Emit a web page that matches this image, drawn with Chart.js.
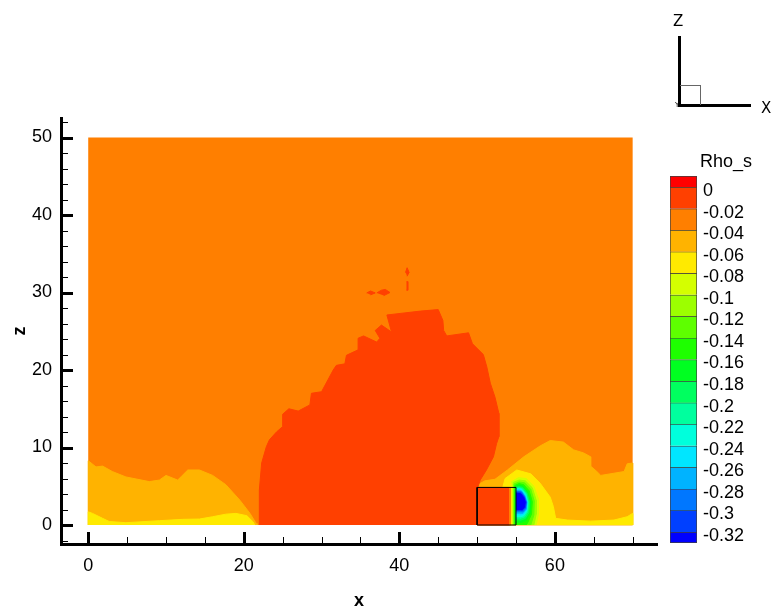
<!DOCTYPE html>
<html>
<head>
<meta charset="utf-8">
<script src="https://cdn.jsdelivr.net/npm/chart.js@4.4.1/dist/chart.umd.min.js"></script>
<style>
  html, body { margin: 0; padding: 0; background: #fff; }
  #wrap { position: relative; width: 773px; height: 614px; overflow: hidden; background: #fff; }
  #wrap canvas { position: absolute; left: 0; top: 0; }
  .lbl { position: absolute; color: #000; white-space: nowrap; line-height: 1; }
  .line { position: absolute; background: #000; }
</style>
</head>
<body>
<div id="wrap">
  <canvas id="field" width="773" height="614"></canvas>
  <canvas id="legendBar" width="773" height="614"></canvas>
  <div class="lbl" style="left:700px;top:151px;font:18px 'Liberation Sans',Arial,sans-serif;">Rho_s</div>
  <!-- orientation triad -->
  <div class="line" style="left:678px;top:36px;width:3px;height:71px;"></div>
  <div class="line" style="left:678px;top:104px;width:73px;height:3px;"></div>
  <div style="position:absolute;left:680px;top:85px;width:20px;height:19px;border:1px solid #666;border-left:none;border-bottom:none;"></div>
  <div class="lbl" style="left:673px;top:12px;font:15px 'DejaVu Sans',sans-serif;">Z</div>
  <div class="lbl" style="left:761px;top:99px;font:15px 'DejaVu Sans',sans-serif;">X</div>
  <div class="lbl" style="left:675px;top:101px;font:7px 'DejaVu Sans',sans-serif;">Y</div>
</div>
<script>
const FONT = '"Liberation Sans", Arial, Helvetica, sans-serif';

// axis ranges and ticks
const xLimits = [-3.5, 73.13];
const zLimits = [-2.45, 52.52];
const xMajor = [0, 20, 40, 60];
const xMinor = [5, 10, 15, 25, 30, 35, 45, 50, 55, 65, 70];
const zMajor = [0, 10, 20, 30, 40, 50];
const zMinor = [-2, 2, 4, 6, 8, 12, 14, 16, 18, 22, 24, 26, 28, 32, 34, 36, 38, 42, 44, 46, 48, 52];

// contour levels of Rho_s and the flood colour of each band
const levels = [0, -0.02, -0.04, -0.06, -0.08, -0.1, -0.12, -0.14, -0.16, -0.18, -0.2, -0.22, -0.24, -0.26, -0.28, -0.3, -0.32];
const bandColors = ['#ff0000', '#ff4000', '#ff7f00', '#ffb300', '#ffea00', '#d4ff00', '#9cff00', '#5eff00',
  '#1eff00', '#00ff21', '#00ff5f', '#00ff9e', '#00ffdc', '#00e6ff', '#00b3ff', '#0077ff', '#0040ff', '#0000ff'];

// flooded regions, [x, z] vertices
const domain = [[0, 0], [70, 0], [70, 50], [0, 50]];
const upstreamAmber = [[0, 0], [0, 8.3], [1.0, 7.5], [1.85, 7.6], [3.1, 6.9], [4.85, 6.2], [7.85, 5.6], [9.15, 5.8],
  [10.0, 6.4], [11.5, 5.8], [12.0, 6.3], [12.8, 7.1], [14.3, 7.1], [16.0, 6.4], [17.7, 5.2], [19.5, 3.2],
  [20.8, 1.5], [21.6, 0.2], [21.7, 0]];
const upstreamYellow = [[0, 0], [0, 1.7], [0.55, 1.5], [1.85, 0.86], [2.7, 0.45], [4.85, 0.3], [9.15, 0.56],
  [12.15, 0.73], [14.3, 0.77], [16.0, 1.07], [17.7, 1.4], [19.0, 1.5], [20.4, 1.2], [21.2, 0.4], [21.4, 0]];
const cloud = [[22.0, 0], [22.0, 4.5], [22.3, 8.0], [22.9, 10.1], [23.3, 11.0], [24.2, 12.0], [25.0, 12.7],
  [25.0, 14.3], [25.8, 15.0], [27.0, 14.7], [28.5, 15.5], [28.7, 17.0], [30.0, 17.2], [31.5, 20.0], [31.9, 20.6],
  [33.0, 20.8], [33.2, 21.9], [34.7, 22.6], [34.7, 24.1], [35.4, 24.4], [37.1, 23.6], [37.5, 24.1], [36.9, 25.1],
  [37.7, 25.8], [39.0, 24.9], [38.4, 27.1], [40.1, 27.3], [42.7, 27.6], [45.0, 27.8], [45.6, 26.4], [45.7, 25.1],
  [46.1, 24.4], [48.9, 24.8], [49.4, 23.4], [50.8, 22.0], [51.25, 20.4], [51.7, 18.3], [52.3, 16.5], [52.8, 14.4],
  [52.8, 11.4], [52.5, 10.5], [52.1, 8.8], [51.2, 7.1], [50.4, 5.8], [50.1, 4.9], [50.0, 0]];
const wakeAmber = [[50.2, 4.85], [50.3, 5.3], [51.0, 5.7], [52.3, 5.9], [53.9, 7.1], [56.0, 8.8], [58.1, 10.2],
  [59.4, 10.9], [61.1, 10.7], [62.4, 9.7], [63.7, 9.3], [64.6, 8.8], [64.6, 7.6], [65.4, 6.9], [65.9, 6.4],
  [68.9, 6.9], [69.3, 7.9], [70, 8.0], [70, 0], [50.2, 0]];
const wakeYellow = [[54.3, 0], [54.3, 4.85], [53.3, 4.85], [53.6, 6.0], [55.1, 7.1], [56.9, 6.6], [58.1, 5.4],
  [59.4, 3.6], [59.8, 2.4], [60.1, 0.86], [61.6, 0.64], [64.6, 0.5], [67.6, 0.64], [69.3, 1.07], [70, 1.5], [70, 0]];
const pocket1 = [[54.55, 0], [54.55, 4.85], [54.45, 5.6], [55.3, 6.1], [56.3, 6.0], [57.3, 5.0], [57.9, 3.3], [57.9, 1.5], [57.6, 0]];
const pocket2 = [[54.65, 0], [54.65, 5.5], [55.4, 5.8], [56.2, 5.7], [57.1, 4.8], [57.6, 3.2], [57.6, 1.4], [57.3, 0]];
const pocket3 = [[54.75, 0], [54.75, 5.3], [55.4, 5.55], [56.1, 5.45], [56.9, 4.6], [57.35, 3.1], [57.3, 1.3], [56.9, 0]];
const pocket4 = [[54.85, 0], [54.85, 5.1], [55.4, 5.35], [56.0, 5.2], [56.7, 4.4], [57.1, 3.0], [57.0, 1.4], [56.5, 0.3], [56.3, 0]];
const pocket5 = [[54.95, 0.3], [54.95, 4.95], [55.4, 5.15], [55.9, 5.0], [56.5, 4.25], [56.9, 2.95], [56.8, 1.5], [56.3, 0.6], [55.6, 0.3]];
const pocket6 = [[55.0, 0.6], [55.0, 4.85], [55.4, 4.95], [55.85, 4.85], [56.4, 4.15], [56.75, 2.95], [56.65, 1.6], [56.2, 0.85], [55.5, 0.6]];
const pocket7 = [[55.05, 0.85], [55.05, 4.75], [55.4, 4.8], [55.8, 4.7], [56.3, 4.05], [56.6, 2.95], [56.5, 1.7], [56.1, 1.05], [55.5, 0.85]];
const pocket8 = [[55.05, 1.05], [55.05, 4.65], [55.4, 4.7], [55.75, 4.6], [56.25, 3.95], [56.5, 2.95], [56.4, 1.8], [56.0, 1.2], [55.5, 1.05]];
const pocket9 = [[55.1, 1.25], [55.1, 4.55], [55.4, 4.6], [55.7, 4.5], [56.2, 3.85], [56.45, 2.95], [56.35, 1.9], [55.95, 1.35], [55.5, 1.25]];
const pocket10 = [[55.1, 1.45], [55.1, 4.45], [55.4, 4.5], [55.7, 4.4], [56.15, 3.75], [56.4, 2.95], [56.3, 2.0], [55.9, 1.5], [55.5, 1.45]];
const pocket11 = [[55.1, 1.65], [55.1, 4.35], [55.7, 4.3], [56.1, 3.7], [56.35, 2.95], [56.25, 2.1], [55.85, 1.65]];
const pocket12 = [[55.1, 1.8], [55.1, 4.25], [55.65, 4.2], [56.05, 3.65], [56.3, 2.95], [56.2, 2.2], [55.8, 1.8]];
const pocket13 = [[55.1, 1.95], [55.1, 4.1], [55.6, 4.05], [56.0, 3.55], [56.2, 2.95], [56.1, 2.3], [55.75, 1.95]];
const blockCore = [[50, 0], [54.1, 0], [54.1, 4.85], [50, 4.85]];
const blockEdge = [[54.1, 0], [54.3, 0], [54.3, 4.85], [54.1, 4.85]];
const blockOutline = [[50, 0], [55, 0], [55, 4.85], [50, 4.85], [50, 0]];
const speckA = [[35.8, 29.95], [36.3, 30.2], [36.9, 29.95], [36.3, 29.7]];
const speckB = [[37.1, 29.95], [37.7, 30.3], [38.2, 30.4], [38.8, 30.0], [38.0, 29.6]];
const speckC = [[40.8, 32.6], [41.0, 33.2], [41.25, 32.6], [41.0, 32.1]];
const speckD = [[40.92, 31.4], [41.08, 31.4], [41.08, 30.3], [40.92, 30.3]];

// paint order (bottom first) and band index of each region
const regions = [domain, upstreamAmber, upstreamYellow, wakeAmber, wakeYellow,
  pocket1, pocket2, pocket3, pocket4, pocket5, pocket6, pocket7, pocket8, pocket9, pocket10, pocket11, pocket12, pocket13,
  cloud, blockCore, blockEdge, speckA, speckB, speckC, speckD];
const regionBands = [2, 3, 4, 3, 4,
  5, 6, 7, 8, 9, 10, 11, 12, 13, 14, 15, 16, 17,
  1, 1, 2, 1, 1, 1, 1];

const toPts = arr => arr.map(([x, y]) => ({ x, y }));

const datasets = regions.map((poly, i) => {
  const c = bandColors[regionBands[i]];
  return {
    data: toPts(poly),
    fill: 'shape',
    backgroundColor: c,
    borderColor: i === 0 ? 'rgba(0,0,0,0)' : c,
    borderWidth: 1,
    pointRadius: 0,
    tension: 0,
    order: regions.length + 1 - i
  };
});
datasets.push({
  data: toPts(blockOutline),
  fill: false,
  borderColor: '#000',
  borderWidth: 1,
  pointRadius: 0,
  tension: 0,
  order: 0
});

// inward major/minor tick marks on both axes
const tickMarks = {
  id: 'tickMarks',
  afterDraw(chart) {
    const { ctx, chartArea: a, scales: { x, y } } = chart;
    ctx.save();
    ctx.strokeStyle = '#000';
    const drawX = (vals, len, w) => {
      ctx.lineWidth = w;
      vals.forEach(v => {
        const p = Math.round(x.getPixelForValue(v)) + (w % 2 ? 0.5 : 0);
        ctx.beginPath(); ctx.moveTo(p, a.bottom); ctx.lineTo(p, a.bottom - len); ctx.stroke();
      });
    };
    const drawY = (vals, len, w) => {
      ctx.lineWidth = w;
      vals.forEach(v => {
        const p = Math.round(y.getPixelForValue(v)) + (w % 2 ? 0.5 : 0);
        ctx.beginPath(); ctx.moveTo(a.left, p); ctx.lineTo(a.left + len, p); ctx.stroke();
      });
    };
    drawX(xMinor, 7, 1);
    drawX(xMajor, 12, 3);
    drawY(zMinor, 7, 1);
    drawY(zMajor, 12, 3);
    ctx.restore();
  }
};

new Chart(document.getElementById('field'), {
  type: 'line',
  data: { datasets },
  options: {
    responsive: false,
    animation: false,
    devicePixelRatio: 1,
    events: [],
    layout: { padding: { top: 118, right: 116, left: 0, bottom: 0 } },
    plugins: { legend: { display: false }, tooltip: { enabled: false }, filler: { propagate: false } },
    scales: {
      x: {
        type: 'linear', min: xLimits[0], max: xLimits[1],
        afterBuildTicks: s => { s.ticks = xMajor.map(v => ({ value: v })); },
        afterFit: s => { s.height = 70; },
        grid: { display: false, drawTicks: false },
        border: { display: true, width: 3, color: '#000' },
        ticks: { color: '#000', font: { family: FONT, size: 18 }, padding: 11, maxRotation: 0, autoSkip: false },
        title: { display: true, text: 'x', color: '#000', font: { family: FONT, size: 18, weight: 'bold' }, padding: { top: 0, bottom: 2 } }
      },
      y: {
        type: 'linear', min: zLimits[0], max: zLimits[1],
        afterBuildTicks: s => { s.ticks = zMajor.map(v => ({ value: v })); },
        afterFit: s => { s.width = 61; },
        grid: { display: false, drawTicks: false },
        border: { display: true, width: 3, color: '#000' },
        ticks: { color: '#000', font: { family: FONT, size: 18 }, padding: 9, autoSkip: false },
        title: { display: true, text: 'z', color: '#000', font: { family: FONT, size: 18, weight: 'bold' }, padding: { top: 9, bottom: 0 } }
      }
    }
  },
  plugins: [tickMarks]
});

// colour legend: one floating bar per band
const endHalf = 0.0102;
const legendSets = bandColors.map((c, k) => {
  const hi = k === 0 ? levels[0] + endHalf : levels[k - 1];
  const lo = k === bandColors.length - 1 ? levels[levels.length - 1] - endHalf : levels[k];
  return {
    data: [[lo, hi]],
    backgroundColor: c,
    borderColor: 'rgba(30,30,30,0.85)',
    borderWidth: { top: 1, left: 1, right: 1, bottom: k === bandColors.length - 1 ? 1 : 0 },
    borderSkipped: false,
    barPercentage: 1,
    categoryPercentage: 1,
    grouped: false,
    yAxisID: 'yb'
  };
});

new Chart(document.getElementById('legendBar'), {
  type: 'bar',
  data: { labels: ['Rho_s'], datasets: legendSets },
  options: {
    responsive: false,
    animation: false,
    devicePixelRatio: 1,
    events: [],
    layout: { padding: { left: 670, right: 26, top: 176, bottom: 71 } },
    plugins: { legend: { display: false }, tooltip: { enabled: false } },
    scales: {
      x: { display: false },
      yb: { display: false, min: levels[levels.length - 1] - endHalf, max: levels[0] + endHalf },
      yl: {
        position: 'right',
        min: levels[levels.length - 1] - endHalf + 0.0037,
        max: levels[0] + endHalf + 0.0037,
        afterBuildTicks: s => { s.ticks = levels.map(v => ({ value: v })); },
        afterFit: s => { s.width = 50; },
        grid: { display: false, drawTicks: false },
        border: { display: false },
        ticks: { color: '#000', font: { family: FONT, size: 18 }, padding: 6, autoSkip: false,
          callback: v => String(v) }
      }
    }
  }
});
</script>
</body>
</html>
